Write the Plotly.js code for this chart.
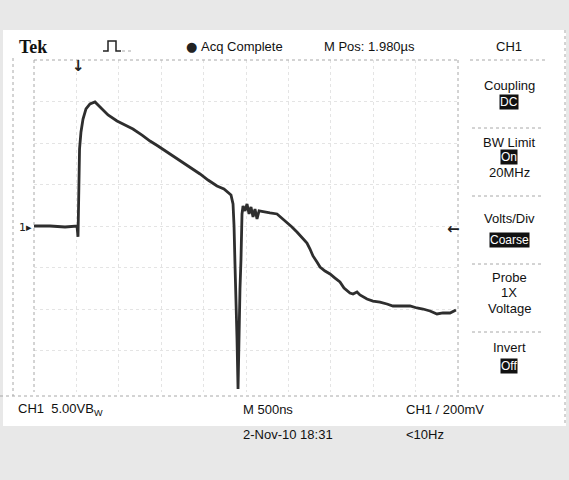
<!DOCTYPE html>
<html>
<head>
<meta charset="utf-8">
<script src="https://cdn.plot.ly/plotly-3.0.1.min.js"></script>
<style>html,body{margin:0;padding:0;background:#e8e8e8;}#chart{width:569px;height:480px;}</style>
</head>
<body>
<div id="chart"></div>
<script>
// Trace data: time in microseconds from left edge of screen, voltage in volts (5 V/div, 500 ns/div)
const timeUs = [0, 0.189, 0.366, 0.507, 0.519, 0.525, 0.537, 0.554, 0.578, 0.613, 0.660, 0.719, 0.778, 0.873, 0.979, 1.073, 1.167, 1.274, 1.368, 1.462, 1.568, 1.663, 1.757, 1.863, 1.958, 2.052, 2.158, 2.240, 2.288, 2.323, 2.347, 2.359, 2.370, 2.382, 2.394, 2.406, 2.418, 2.429, 2.441, 2.453, 2.465, 2.488, 2.512, 2.536, 2.559, 2.583, 2.606, 2.630, 2.654, 2.701, 2.783, 2.866, 2.925, 2.983, 3.042, 3.101, 3.160, 3.219, 3.255, 3.290, 3.337, 3.373, 3.432, 3.491, 3.550, 3.608, 3.656, 3.691, 3.726, 3.762, 3.809, 3.844, 3.927, 3.997, 4.080, 4.162, 4.233, 4.316, 4.434, 4.516, 4.587, 4.670, 4.752, 4.823, 4.906, 4.976];
const volts = [0, 0, -0.12, 0, -1.3, 2.89, 9.28, 11.33, 12.89, 14.10, 14.70, 14.94, 14.34, 13.37, 12.65, 12.17, 11.69, 10.96, 10.24, 9.64, 8.92, 8.31, 7.71, 6.99, 6.27, 5.54, 4.82, 4.46, 4.10, 3.73, 2.65, 0, -4.58, -8.19, -13.61, -19.64, -12.41, -7.59, -3.98, 1.45, 2.41, 1.81, 2.65, 1.45, 2.29, 1.08, 2.05, 0.84, 1.81, 1.69, 1.57, 1.45, 0.96, 0.48, -0.12, -0.72, -1.33, -2.05, -2.77, -3.61, -4.34, -4.94, -5.42, -5.78, -6.27, -6.75, -7.47, -7.83, -8.07, -8.19, -7.95, -8.31, -8.80, -9.04, -9.16, -9.40, -9.64, -9.64, -9.64, -9.88, -10.00, -10.24, -10.60, -10.48, -10.48, -10.12];

const headerLabels = ["Tek", "Acq Complete", "M Pos: 1.980µs", "CH1"];
const menuLabels = ["Coupling", "BW Limit", "20MHz", "Volts/Div", "Probe", "1X", "Voltage", "Invert"];
const menuValues = ["DC", "On", "Coarse", "Off"];
const footerLabels = ["CH1  5.00VB<sub>W</sub>", "M 500ns", "2-Nov-10 18:31", "CH1 / 200mV", "&lt;10Hz"];

// pixel -> paper helpers (plot area 34..458 x, 60..392 y)
const L = 34, R = 458, T = 60, B = 392;
const px = x => (x - L) / (R - L);
const py = y => (B - y) / (B - T);

const FONT = "Liberation Sans, Arial, sans-serif";
const ann = (text, x, y, opts = {}) => Object.assign({
  text, x: px(x), y: py(y), xref: 'paper', yref: 'paper', showarrow: false,
  xanchor: 'left', yanchor: 'middle',
  font: {family: FONT, size: 13, color: '#111'}
}, opts);
const boxFont = {family: FONT, size: 12, color: '#fff'};

const annotations = [
  ann(headerLabels[0], 17, 47, {font: {family: 'Liberation Serif, serif', size: 18, color: '#111', weight: 'bold'}}),
  ann('●', 184, 47, {font: {family: 'DejaVu Sans', size: 13, color: '#222'}}),
  ann(headerLabels[1], 199, 47),
  ann(headerLabels[2], 322, 47),
  ann(headerLabels[3], 509, 47, {xanchor: 'center'}),
  ann(menuLabels[0], 509, 85, {xanchor: 'center'}),
  ann(menuValues[0], 509, 102, {xanchor: 'center', bgcolor: '#111', font: boxFont, borderpad: 0}),
  ann(menuLabels[1], 509, 142, {xanchor: 'center'}),
  ann(menuValues[1], 509, 157, {xanchor: 'center', bgcolor: '#111', font: boxFont, borderpad: 0}),
  ann(menuLabels[2], 509, 172, {xanchor: 'center'}),
  ann(menuLabels[3], 509, 218, {xanchor: 'center'}),
  ann(menuValues[2], 509, 240, {xanchor: 'center', bgcolor: '#111', font: boxFont, borderpad: 0}),
  ann(menuLabels[4], 509, 277, {xanchor: 'center'}),
  ann(menuLabels[5], 509, 292, {xanchor: 'center'}),
  ann(menuLabels[6], 509, 308, {xanchor: 'center'}),
  ann(menuLabels[7], 509, 347, {xanchor: 'center'}),
  ann(menuValues[3], 509, 366, {xanchor: 'center', bgcolor: '#111', font: boxFont, borderpad: 0}),
  ann(footerLabels[0], 16, 409),
  ann(footerLabels[1], 241, 409),
  ann(footerLabels[2], 241, 434),
  ann(footerLabels[3], 404, 409),
  ann(footerLabels[4], 404, 434),
  // markers
  ann('1▸', 17, 227, {font: {family: 'DejaVu Sans', size: 11, color: '#222'}}),
  ann('↓', 78, 66, {xanchor: 'center', font: {family: 'DejaVu Sans', size: 15, color: '#222', weight: 'bold'}}),
  ann('←', 453, 229, {xanchor: 'center', font: {family: 'DejaVu Sans', size: 15, color: '#222', weight: 'bold'}})
];

const dotLine = (x0, y0, x1, y1) => ({
  type: 'line', xref: 'paper', yref: 'paper', x0: px(x0), y0: py(y0), x1: px(x1), y1: py(y1),
  line: {color: '#a8a8a8', width: 1, dash: 'dot'}, layer: 'above'
});

const pulsePath = 'M' + [[103,51],[108,51],[108,41],[116,41],[116,51],[121,51]].map(p => px(p[0]) + ',' + py(p[1])).join(' L');

const shapes = [
  {type: 'rect', xref: 'paper', yref: 'paper', x0: px(3), y0: py(30), x1: px(566), y1: py(426), fillcolor: '#ffffff', line: {width: 0}, layer: 'below'},
  dotLine(34, 60, 458, 60),
  dotLine(0, 396, 560, 396),
  dotLine(13, 58, 13, 396),
  dotLine(34, 60, 34, 392),
  dotLine(458, 60, 458, 396),
  dotLine(565, 30, 565, 426),
  dotLine(470, 60, 545, 60),
  dotLine(472, 128, 543, 128),
  dotLine(472, 196, 543, 196),
  dotLine(472, 264, 543, 264),
  dotLine(472, 332, 543, 332),
  {type: 'path', xref: 'paper', yref: 'paper', path: pulsePath, line: {color: '#222', width: 1.5}},
  dotLine(122, 51, 131, 51)
];

const data = [{
  x: timeUs, y: volts, type: 'scatter', mode: 'lines',
  line: {color: '#2e2e2e', width: 2.8},
  hoverinfo: 'skip'
}];

const layout = {
  width: 569, height: 480,
  margin: {l: L, r: 569 - R, t: T, b: 480 - B},
  paper_bgcolor: '#e8e8e8',
  plot_bgcolor: '#ffffff',
  showlegend: false,
  xaxis: {range: [0, 5], dtick: 0.5, showticklabels: false, ticks: '', zeroline: false,
          showgrid: true, gridcolor: '#e4e4e4', griddash: 'dot', gridwidth: 1, showline: false, fixedrange: true},
  yaxis: {range: [-20, 20], dtick: 5, showticklabels: false, ticks: '', zeroline: false,
          showgrid: true, gridcolor: '#e4e4e4', griddash: 'dot', gridwidth: 1, showline: false, fixedrange: true},
  annotations, shapes
};

Plotly.newPlot('chart', data, layout, {staticPlot: true, displayModeBar: false});
</script>
</body>
</html>
